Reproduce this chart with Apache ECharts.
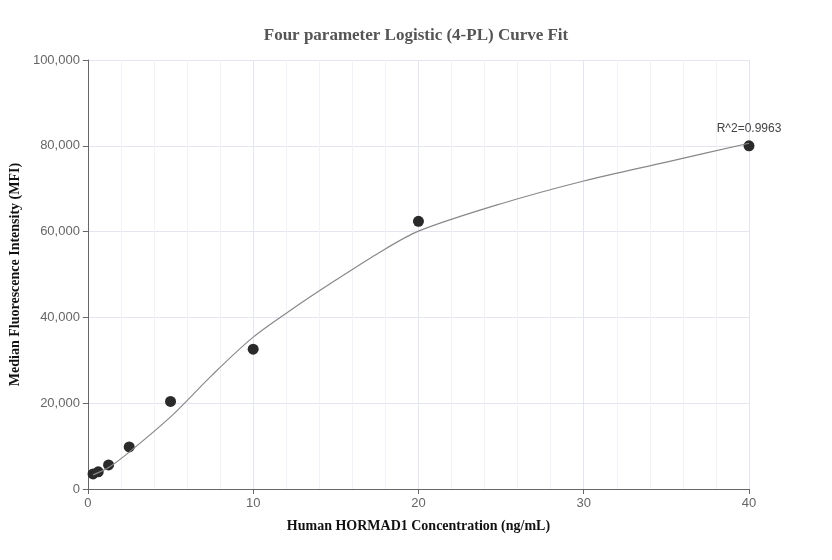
<!DOCTYPE html><html><head><meta charset="utf-8"><script src="https://cdn.jsdelivr.net/npm/echarts@6/dist/echarts.min.js"></script></head><body style="margin:0"><div id="c" style="width:832px;height:560px"></div><script>
const pointX=[0.3125,0.625,1.25,2.5,5,10,20,40];
const pointY=[3500,4000,5600,9800,20400,32600,62400,80000];
const curveX=[0.3125,1.25,2.5,5,7.5,10,12.5,15,17.5,20,25,30,35,40];
const curveY=[3300,5000,8600,16800,26500,35400,42300,48700,54800,60100,66500,71800,76200,80600];
const chart=echarts.init(document.getElementById('c'));
chart.setOption({
title:{text:'Four parameter Logistic (4-PL) Curve Fit',left:'center',top:22,textStyle:{fontFamily:'Liberation Serif',fontSize:17,fontWeight:'bold',color:'#555'}},
grid:{left:83,right:83,top:60,bottom:71},
xAxis:{type:'value',min:0,max:40,interval:10,name:'Human HORMAD1 Concentration (ng/mL)',nameLocation:'middle',nameGap:30,nameTextStyle:{fontFamily:'Liberation Serif',fontWeight:'bold',fontSize:14,color:'#111'},
axisLine:{lineStyle:{color:'#666'}},axisTick:{show:true},axisLabel:{color:'#666',fontSize:13},splitLine:{lineStyle:{color:'#e3e6ef'}},minorTick:{show:false,splitNumber:5},minorSplitLine:{show:true,lineStyle:{color:'#f0f2f7'}}},
yAxis:{type:'value',min:0,max:100000,interval:20000,name:'Median Fluorescence Intensity (MFI)',nameLocation:'middle',nameGap:64,nameTextStyle:{fontFamily:'Liberation Serif',fontWeight:'bold',fontSize:14,color:'#111'},
axisLine:{show:true,lineStyle:{color:'#666'}},axisTick:{show:true},axisLabel:{color:'#666',fontSize:13},splitLine:{lineStyle:{color:'#e3e6ef'}}},
series:[
{type:'line',data:curveX.map((x,i)=>[x,curveY[i]]),smooth:0.3,showSymbol:false,lineStyle:{color:'#888',width:1.2},silent:true},
{type:'scatter',data:pointX.map((x,i)=>[x,pointY[i]]),symbolSize:11,itemStyle:{color:'#2a2a2a',opacity:1},
label:{show:true,position:'top',distance:6,color:'#444',fontSize:12,formatter:p=>p.dataIndex===pointX.length-1?'R^2=0.9963':''}}
]});
</script></body></html>
